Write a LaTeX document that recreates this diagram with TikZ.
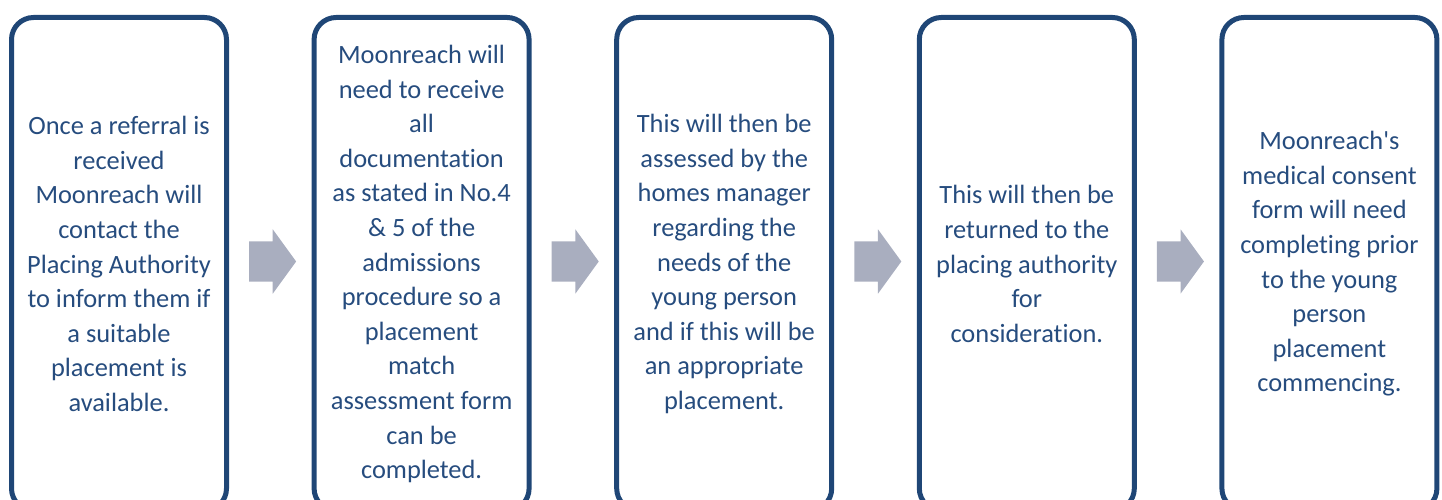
\documentclass[tikz,border=0pt]{standalone}
\usepackage{fontspec}
\setmainfont{Carlito}[Ligatures=NoCommon]
\usepackage{xcolor}
\usepackage{tikz}
\usetikzlibrary{shapes,arrows,positioning,calc}
\def\boxsep{302.6pt}
\definecolor{stepline}{HTML}{1F4676}
\definecolor{steptext}{HTML}{264C7E}
\definecolor{steparrow}{HTML}{A9AEBF}

\begin{document}
\begin{tikzpicture}
    \tikzstyle{stepbox}=[draw=stepline,line width=5pt,rounded corners=22pt,
        minimum width=215pt,minimum height=493pt,inner sep=0pt,
        text=steptext,align=center,font=\fontsize{26.4}{34.6}\selectfont]
    \tikzstyle{steparrow}=[single arrow,fill=steparrow,draw=none,
        minimum height=47pt,inner xsep=0pt,inner ysep=20pt,
        single arrow head extend=12pt,single arrow tip angle=108]

    \useasboundingbox (0,0) rectangle (1442pt,500pt);

    % The five steps
    \node[stepbox] (S-1) at (119pt,236pt) {Once a referral is\\received\\Moonreach will\\contact the\\Placing Authority\\to inform them if\\a suitable\\placement is\\available.};
    \node[stepbox] (S-2) at ([xshift=\boxsep]S-1.center) {Moonreach will\\need to receive\\all\\documentation\\as stated in No.4\\\& 5 of the\\admissions\\procedure so a\\placement\\match\\assessment form\\can be\\completed.};
    \node[stepbox] (S-3) at ([xshift=\boxsep]S-2.center) {This will then be\\assessed by the\\homes manager\\regarding the\\needs of the\\young person\\and if this will be\\an appropriate\\placement.};
    \node[stepbox] (S-4) at ([xshift=\boxsep]S-3.center) {This will then be\\returned to the\\placing authority\\for\\consideration.};
    \node[stepbox] (S-5) at ([xshift=\boxsep]S-4.center) {Moonreach\textquotesingle s\\medical consent\\form will need\\completing prior\\to the young\\person\\placement\\commencing.};

    % Arrows between the steps
    \foreach \source/\dest in {1/2,2/3,3/4,4/5}
        \node[steparrow] (A-\source) at ([xshift=-5pt,yshift=2.5pt]$(S-\source.east)!0.5!(S-\dest.west)$) {};

\end{tikzpicture}
\end{document}
